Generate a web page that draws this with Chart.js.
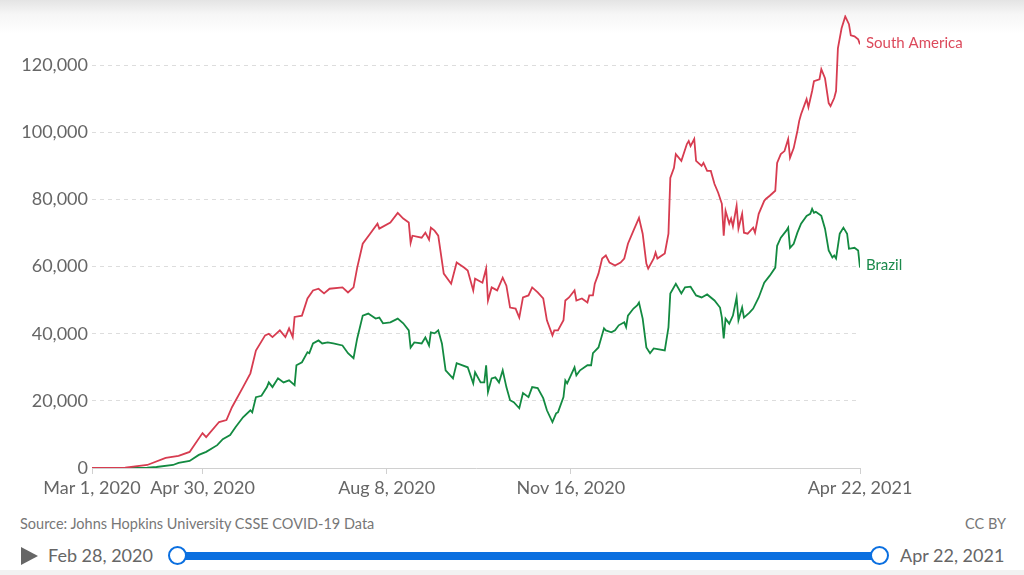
<!DOCTYPE html>
<html>
<head>
<meta charset="utf-8">
<script src="https://cdn.jsdelivr.net/npm/chart.js@4"></script>
<style>
  html, body { margin: 0; padding: 0; }
  body {
    width: 1024px; height: 575px; overflow: hidden; position: relative;
    font-family: Lato, "Open Sans", sans-serif;
    background: linear-gradient(#e4e4e4 0px, #f6f6f6 14px, #ffffff 34px);
  }
  #wrap { position: absolute; left: 0; top: 0; width: 1024px; height: 510px; }
  .source { position: absolute; left: 20px; top: 515px; font-size: 14.5px; color: #777; }
  .license { position: absolute; right: 18px; top: 515px; font-size: 14.5px; color: #777; }
  .play { position: absolute; left: 21px; top: 547px; width: 0; height: 0;
    border-top: 9px solid transparent; border-bottom: 9px solid transparent; border-left: 17px solid #666; }
  .date { position: absolute; top: 544px; font-size: 18px; color: #666; }
  .track { position: absolute; left: 178px; top: 552px; width: 702px; height: 8px; background: #0a6fe0; border-radius: 4px; }
  .knob { position: absolute; top: 546px; width: 15px; height: 15px; border: 2.5px solid #0a6fe0; background: #fff; border-radius: 50%; }
  .strip { position: absolute; left: 0; top: 570px; width: 1024px; height: 5px; background: #f2f2f2; }
</style>
</head>
<body>
<div id="wrap"><canvas id="casesChart" width="1024" height="510"></canvas></div>
<div class="source">Source: Johns Hopkins University CSSE COVID-19 Data</div>
<div class="license">CC BY</div>
<div class="play"></div>
<div class="date" style="left:48px">Feb 28, 2020</div>
<div class="track"></div>
<div class="knob" style="left:168px"></div>
<div class="knob" style="left:870px"></div>
<div class="date" style="left:900px">Apr 22, 2021</div>
<div class="strip"></div>
<script>
// days since Mar 1, 2020
const tickDays = [0, 60, 160, 260, 417];
const tickLabels = ['Mar 1, 2020', 'Apr 30, 2020', 'Aug 8, 2020', 'Nov 16, 2020', 'Apr 22, 2021'];
const yTicks = [0, 20000, 40000, 60000, 80000, 100000, 120000];

const saDays = [0, 10, 18, 30, 40, 47, 53, 60, 62, 69, 73, 76, 82, 86, 89, 94, 96, 98, 102, 105, 107, 109, 110, 114, 117, 120, 123, 126, 129, 136, 139, 142, 144, 147, 151, 155, 156, 162, 166, 169, 172, 173, 174, 179, 181, 183, 184, 186, 188, 191, 195, 198, 202, 204, 207, 208, 212, 214, 215, 217, 220, 223, 225, 227, 230, 232, 234, 237, 239, 242, 245, 247, 250, 251, 253, 256, 257, 259, 262, 263, 266, 269, 270, 272, 273, 275, 277, 279, 281, 284, 287, 289, 291, 294, 297, 299, 301, 302, 305, 306, 307, 311, 313, 314, 316, 317, 320, 323, 324, 325, 327, 328, 331, 332, 334, 336, 338, 340, 342, 343, 344, 346, 347, 348, 350, 351, 353, 354, 356, 359, 360, 362, 365, 366, 368, 371, 372, 374, 376, 378, 379, 381, 383, 384, 385, 387, 388, 389, 391, 392, 395, 396, 398, 400, 401, 403, 404, 405, 407, 409, 411, 412, 414, 416, 417];
const saCases = [0, 0, 100, 900, 3000, 3600, 4800, 10400, 9200, 13700, 14300, 18100, 24100, 28200, 35000, 39500, 40000, 39000, 41000, 39000, 41600, 39000, 45000, 45400, 50500, 52900, 53400, 52000, 53400, 53800, 52300, 53800, 59700, 66800, 69800, 72800, 71300, 73100, 76000, 74300, 73100, 67100, 69200, 68600, 70100, 68000, 71600, 70700, 69200, 57900, 54900, 61200, 59700, 58800, 52900, 56400, 55200, 59400, 49900, 53800, 52900, 56700, 54300, 47800, 47500, 44800, 50800, 51400, 53800, 52300, 50500, 44000, 39500, 41000, 41000, 44000, 49900, 50800, 52900, 49900, 50500, 49300, 51400, 51400, 54900, 57900, 62400, 63300, 61200, 60300, 61200, 62400, 66800, 70700, 74500, 69800, 60900, 59400, 62400, 64200, 62400, 63900, 69800, 86400, 89400, 93500, 91500, 96500, 97400, 95900, 98000, 91500, 90000, 90900, 88500, 88500, 84600, 82000, 78700, 69200, 76600, 72800, 74300, 72000, 78100, 71300, 75700, 70100, 69800, 71600, 70100, 75700, 79600, 80200, 81100, 82600, 90900, 93500, 94400, 98000, 92400, 95300, 100400, 103400, 105400, 108400, 109900, 107500, 112300, 115200, 115800, 118800, 116100, 108700, 107800, 110200, 112300, 125000, 131000, 134500, 132200, 128900, 128600, 127700, 126200];

const brDays = [0, 10, 18, 30, 35, 44, 47, 53, 58, 62, 68, 71, 75, 78, 82, 86, 87, 89, 92, 95, 96, 98, 101, 104, 107, 110, 111, 114, 117, 118, 120, 123, 125, 128, 131, 136, 139, 142, 144, 147, 150, 154, 156, 158, 162, 166, 169, 172, 173, 175, 179, 181, 183, 184, 186, 188, 190, 192, 196, 198, 204, 207, 208, 211, 213, 214, 215, 217, 219, 221, 223, 225, 227, 229, 232, 234, 237, 239, 242, 245, 247, 250, 252, 253, 256, 257, 258, 260, 262, 263, 265, 269, 271, 272, 275, 278, 279, 282, 284, 286, 289, 290, 291, 294, 296, 297, 299, 301, 303, 305, 311, 313, 314, 317, 320, 322, 325, 328, 331, 334, 338, 341, 342, 343, 344, 346, 348, 350, 351, 353, 354, 357, 359, 362, 365, 368, 371, 372, 374, 377, 378, 379, 381, 383, 385, 388, 390, 391, 392, 393, 396, 398, 400, 402, 403, 404, 406, 408, 410, 411, 414, 416, 417];
const brCases = [0, 0, 0, 100, 300, 900, 1500, 2100, 3900, 4800, 6800, 8600, 9800, 12200, 15100, 17200, 16600, 21100, 21500, 24100, 25500, 24100, 26700, 25500, 26100, 24700, 30600, 31500, 34500, 34200, 37100, 38000, 37100, 37400, 37100, 36500, 34200, 32700, 38600, 45400, 46000, 44500, 44800, 43100, 43400, 44500, 43100, 41000, 35900, 37400, 37100, 38900, 36500, 40400, 40100, 41000, 37100, 29100, 26700, 31200, 30000, 25200, 28500, 25500, 25500, 30600, 22600, 26700, 27000, 25500, 29100, 24100, 20200, 19600, 17800, 22300, 21100, 24100, 23800, 20800, 17200, 13700, 16300, 16600, 21100, 26100, 25200, 27600, 30000, 27600, 29100, 30600, 30600, 34200, 35900, 41600, 41000, 40400, 41000, 42500, 43400, 42000, 45400, 47500, 48400, 49300, 44500, 35900, 34200, 35600, 35000, 41900, 52000, 54900, 52000, 53800, 54000, 51400, 50800, 51700, 49900, 47800, 44800, 38600, 44500, 43000, 45400, 50800, 44000, 47800, 44800, 46300, 47500, 50800, 55200, 57300, 59700, 66200, 68600, 70700, 71600, 65600, 66800, 70100, 72800, 75100, 75700, 77200, 76000, 76300, 75100, 71300, 64800, 62700, 63300, 62400, 69800, 71600, 69800, 65300, 65600, 64800, 59700];

const saColor = '#d73c50';
const brColor = '#138a41';

function toPoints(days, values) {
    return days.map((d, i) => ({ x: d, y: values[i] }));
}

// series name at the end of each line
const endLabels = {
    id: 'endLabels',
    afterDatasetsDraw(chart) {
        const c = chart.ctx;
        c.save();
        c.font = '15px Lato';
        c.textBaseline = 'middle';
        chart.data.datasets.forEach((ds, i) => {
            const meta = chart.getDatasetMeta(i);
            const last = meta.data[meta.data.length - 1];
            c.fillStyle = ds.labelColor;
            c.fillText(ds.label, last.x + 6, last.y + ds.labelShift);
        });
        c.restore();
    }
};

const ctx = document.getElementById('casesChart').getContext('2d');

const casesChart = new Chart(ctx, {
    type: 'line',
    data: {
        datasets: [{
            label: 'South America',
            data: toPoints(saDays, saCases),
            borderColor: saColor,
            labelColor: '#dc4a5c',
            labelShift: -1,
            borderWidth: 1.8,
            pointRadius: 0,
            tension: 0
        }, {
            label: 'Brazil',
            data: toPoints(brDays, brCases),
            borderColor: brColor,
            labelColor: '#1b8a4c',
            labelShift: -2,
            borderWidth: 1.8,
            pointRadius: 0,
            tension: 0
        }]
    },
    options: {
        responsive: false,
        animation: false,
        layout: {
            padding: { left: 0, right: 164, top: 13, bottom: 0 }
        },
        plugins: {
            legend: { display: false },
            tooltip: { enabled: false }
        },
        scales: {
            x: {
                type: 'linear',
                min: 0,
                max: 417,
                afterBuildTicks: function (axis) {
                    axis.ticks = tickDays.map(v => ({ value: v }));
                },
                afterFit: function (axis) {
                    axis.height = 42;
                },
                ticks: {
                    autoSkip: false,
                    maxRotation: 0,
                    padding: 3,
                    color: '#666',
                    font: { family: 'Lato', size: 18 },
                    callback: function (value) {
                        const i = tickDays.indexOf(value);
                        return i >= 0 ? tickLabels[i] : '';
                    }
                },
                grid: {
                    drawOnChartArea: false,
                    drawTicks: true,
                    tickLength: 6,
                    color: '#d0d0d0'
                },
                border: { display: true, color: '#d0d0d0', width: 1 }
            },
            y: {
                min: 0,
                max: 135000,
                afterBuildTicks: function (axis) {
                    axis.ticks = yTicks.map(v => ({ value: v }));
                },
                afterFit: function (axis) {
                    axis.width = 92;
                },
                ticks: {
                    autoSkip: false,
                    padding: 4,
                    color: '#666',
                    font: { family: 'Lato', size: 18 },
                    callback: function (value) {
                        return value.toLocaleString('en-US');
                    }
                },
                grid: {
                    drawTicks: false,
                    color: function (c) {
                        return c.tick && c.tick.value === 0 ? 'rgba(0,0,0,0)' : '#dddddd';
                    }
                },
                border: { display: false, dash: [4, 4] }
            }
        }
    },
    plugins: [endLabels]
});
</script>
</body>
</html>
